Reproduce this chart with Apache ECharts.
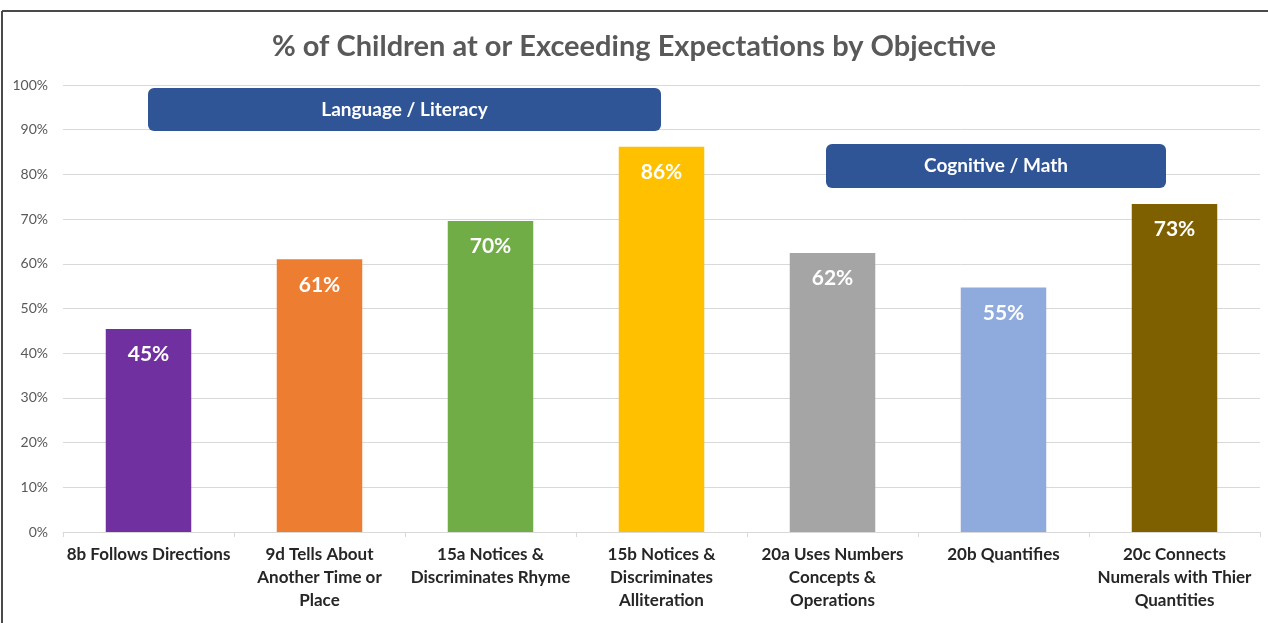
<!DOCTYPE html>
<html>
<head>
<meta charset="utf-8">
<script src="https://cdn.jsdelivr.net/npm/echarts@6/dist/echarts.min.js"></script>
<style>
  html, body { margin: 0; padding: 0; background: #fff; }
  #chart { width: 1268px; height: 623px; }
</style>
</head>
<body>
<div id="chart"></div>
<script>
// objectives on the x axis
let categories = [
  "8b Follows Directions",
  "9d Tells About\nAnother Time or\nPlace",
  "15a Notices &\nDiscriminates Rhyme",
  "15b Notices &\nDiscriminates\nAlliteration",
  "20a Uses Numbers\nConcepts &\nOperations",
  "20b Quantifies",
  "20c Connects\nNumerals with Thier\nQuantities",
];
// share of children
let values = [45.4, 61.0, 69.6, 86.2, 62.4, 54.7, 73.4];
let barColors = ["#7030A0", "#ED7D31", "#70AD47", "#FFC000", "#A5A5A5", "#8FAADC", "#7F6000"];
let groupLabels = ["Language / Literacy", "Cognitive / Math"];

let myChart = echarts.init(document.getElementById("chart"));
let font = "Lato, 'Open Sans', sans-serif";

// rounded header box with centred white text
function groupBox(x, y, w, h, text) {
  return [
    {
      type: "rect",
      z: 100,
      shape: { x: x, y: y, width: w, height: h, r: 6 },
      style: { fill: "#2F5597" },
    },
    {
      type: "text",
      z: 101,
      x: x + w / 2,
      y: y + h / 2,
      style: {
        text: text,
        fill: "#fff",
        fontSize: 19,
        fontWeight: "bold",
        fontFamily: font,
        align: "center",
        verticalAlign: "middle",
      },
    },
  ];
}

myChart.setOption({
  animation: false,
  textStyle: { fontFamily: font },
  title: {
    text: "% of Children at or Exceeding Expectations by Objective",
    left: "center",
    top: 27,
    textStyle: { fontSize: 29, fontWeight: "bold", color: "#595959", fontFamily: font },
  },
  grid: { left: 63, right: 8, top: 85, bottom: 91 },
  xAxis: {
    type: "category",
    data: categories,
    axisLine: { lineStyle: { color: "#D9D9D9" } },
    axisTick: { show: true, length: 5, lineStyle: { color: "#D9D9D9" } },
    axisLabel: {
      interval: 0,
      margin: 11,
      color: "#262626",
      fontSize: 17,
      fontWeight: "bold",
      lineHeight: 23,
      verticalAlign: "top",
    },
  },
  yAxis: {
    type: "value",
    min: 0,
    max: 100,
    interval: 10,
    axisLine: { show: false },
    axisTick: { show: false },
    axisLabel: { color: "#595959", fontSize: 14, margin: 15, formatter: "{value}%" },
    splitLine: { lineStyle: { color: "#D9D9D9" } },
  },
  series: [
    {
      type: "bar",
      barWidth: "50%",
      data: values.map((v, i) => ({ value: v, itemStyle: { color: barColors[i] } })),
      label: {
        show: true,
        position: "insideTop",
        distance: 15,
        color: "#fff",
        fontSize: 21,
        fontWeight: "bold",
        formatter: (p) => Math.round(p.value) + "%",
      },
    },
  ],
  graphic: [
    // chart frame (top and left edges)
    { type: "line", z: 100, shape: { x1: 2, y1: 11, x2: 1268, y2: 11 }, style: { stroke: "#4a4a4a", lineWidth: 2 } },
    { type: "line", z: 100, shape: { x1: 2, y1: 11, x2: 2, y2: 623 }, style: { stroke: "#4a4a4a", lineWidth: 2 } },
    ...groupBox(148, 88, 513, 43, groupLabels[0]),
    ...groupBox(826, 144, 340, 44, groupLabels[1]),
  ],
});

window.addEventListener("resize", () => {
  myChart.resize();
});
</script>
</body>
</html>
